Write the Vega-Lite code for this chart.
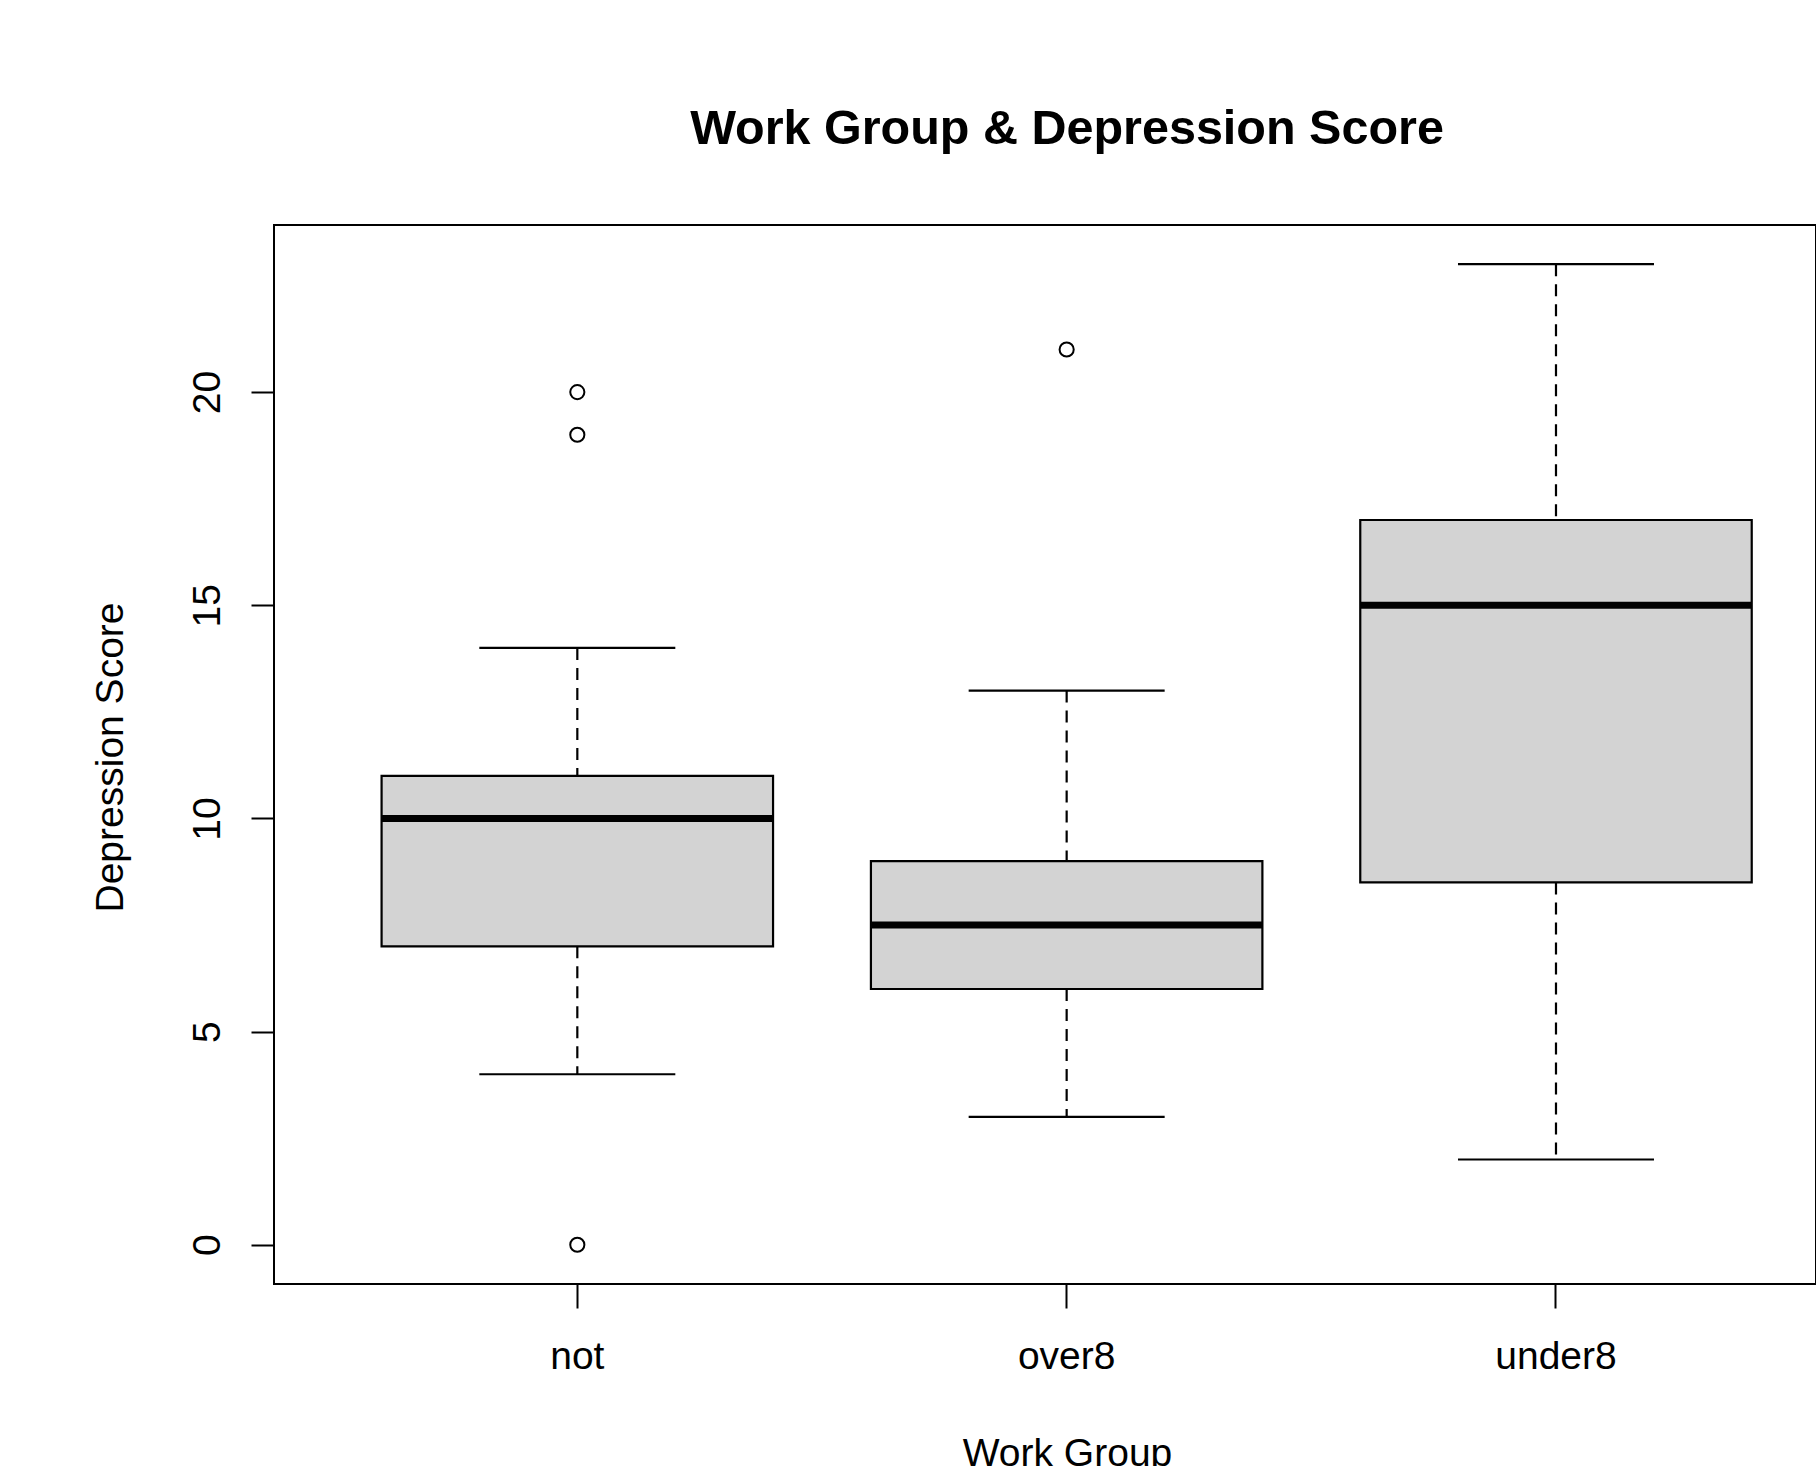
{
  "$schema": "https://vega.github.io/schema/vega-lite/v6.json",
  "autosize": {"type": "none"},
  "padding": {"left": 274, "top": 225, "right": 0, "bottom": 182},
  "width": 1542,
  "height": 1059,
  "background": "white",
  "title": {
    "text": "Work Group & Depression Score",
    "font": "Liberation Sans",
    "fontSize": 48.5,
    "fontWeight": "bold",
    "color": "black",
    "frame": "group",
    "anchor": "middle",
    "dx": 22,
    "baseline": "alphabetic",
    "offset": 33
  },
  "config": {
    "view": {"stroke": "black", "strokeWidth": 2},
    "font": "Liberation Sans"
  },
  "datasets": {
    "stats": [
      {"group": "not", "lower": 4, "q1": 7, "median": 10, "q3": 11, "upper": 14},
      {"group": "over8", "lower": 3, "q1": 6, "median": 7.5, "q3": 9, "upper": 13},
      {"group": "under8", "lower": 2, "q1": 8.5, "median": 15, "q3": 17, "upper": 23}
    ],
    "outliers": [
      {"group": "not", "score": 20},
      {"group": "not", "score": 19},
      {"group": "not", "score": 0},
      {"group": "over8", "score": 21}
    ]
  },
  "encoding": {
    "x": {
      "field": "group",
      "type": "nominal",
      "scale": {"type": "band", "domain": ["not", "over8", "under8"], "paddingInner": 0, "paddingOuter": 0.0756, "align": 0.7927},
      "axis": {
        "title": "Work Group",
        "domain": false,
        "grid": false,
        "ticks": true,
        "tickSize": 24,
        "tickWidth": 2,
        "tickColor": "black",
        "labelAngle": 0,
        "labelAlign": "center",
        "labelBaseline": "alphabetic",
        "labelPadding": 60,
        "labelFont": "Liberation Sans",
        "labelFontSize": 39,
        "labelColor": "black",
        "titleFont": "Liberation Sans",
        "titleFontSize": 39,
        "titleFontWeight": "normal",
        "titleColor": "black",
        "titleBaseline": "alphabetic",
        "titleAlign": "center",
        "titleX": 793,
        "titleY": 181
      }
    }
  },
  "layer": [
    {
      "data": {"name": "stats"},
      "mark": {"type": "rule", "strokeDash": [12, 8], "strokeWidth": 2.2, "color": "black", "opacity": 1},
      "encoding": {
        "y": {
          "field": "upper",
          "type": "quantitative",
          "scale": {"domain": [-0.92, 23.92], "nice": false, "zero": false},
          "axis": {
            "title": "Depression Score",
            "values": [0, 5, 10, 15, 20],
            "domain": false,
            "grid": false,
            "tickSize": 23,
            "tickWidth": 2,
            "tickColor": "black",
            "labelAngle": -90,
            "labelAlign": "center",
            "labelBaseline": "alphabetic",
            "labelPadding": 32,
            "labelFont": "Liberation Sans",
            "labelFontSize": 39,
            "labelColor": "black",
            "labelFlush": false,
            "labelOverlap": false,
            "titleFont": "Liberation Sans",
            "titleFontSize": 39,
            "titleFontWeight": "normal",
            "titleColor": "black",
            "titleAngle": -90,
            "titleAlign": "center",
            "titleBaseline": "alphabetic",
            "titleX": -152,
            "titleY": 532
          }
        },
        "y2": {"field": "q3"}
      }
    },
    {
      "data": {"name": "stats"},
      "mark": {"type": "rule", "strokeDash": [12, 8], "strokeWidth": 2.2, "color": "black", "opacity": 1},
      "encoding": {
        "y": {"field": "q1", "type": "quantitative"},
        "y2": {"field": "lower"}
      }
    },
    {
      "data": {"name": "stats"},
      "mark": {"type": "tick", "size": 196, "thickness": 2.2, "color": "black", "opacity": 1},
      "encoding": {"y": {"field": "upper", "type": "quantitative"}}
    },
    {
      "data": {"name": "stats"},
      "mark": {"type": "tick", "size": 196, "thickness": 2.2, "color": "black", "opacity": 1},
      "encoding": {"y": {"field": "lower", "type": "quantitative"}}
    },
    {
      "data": {"name": "stats"},
      "mark": {"type": "bar", "width": {"band": 0.8}, "fill": "#D3D3D3", "stroke": "black", "strokeWidth": 2.2, "opacity": 1},
      "encoding": {
        "y": {"field": "q1", "type": "quantitative"},
        "y2": {"field": "q3"}
      }
    },
    {
      "data": {"name": "stats"},
      "mark": {"type": "tick", "size": 391.5, "thickness": 7, "color": "black", "opacity": 1},
      "encoding": {"y": {"field": "median", "type": "quantitative"}}
    },
    {
      "data": {"name": "outliers"},
      "mark": {"type": "point", "shape": "circle", "filled": false, "size": 200, "stroke": "black", "strokeWidth": 2, "opacity": 1},
      "encoding": {"y": {"field": "score", "type": "quantitative"}}
    }
  ]
}
